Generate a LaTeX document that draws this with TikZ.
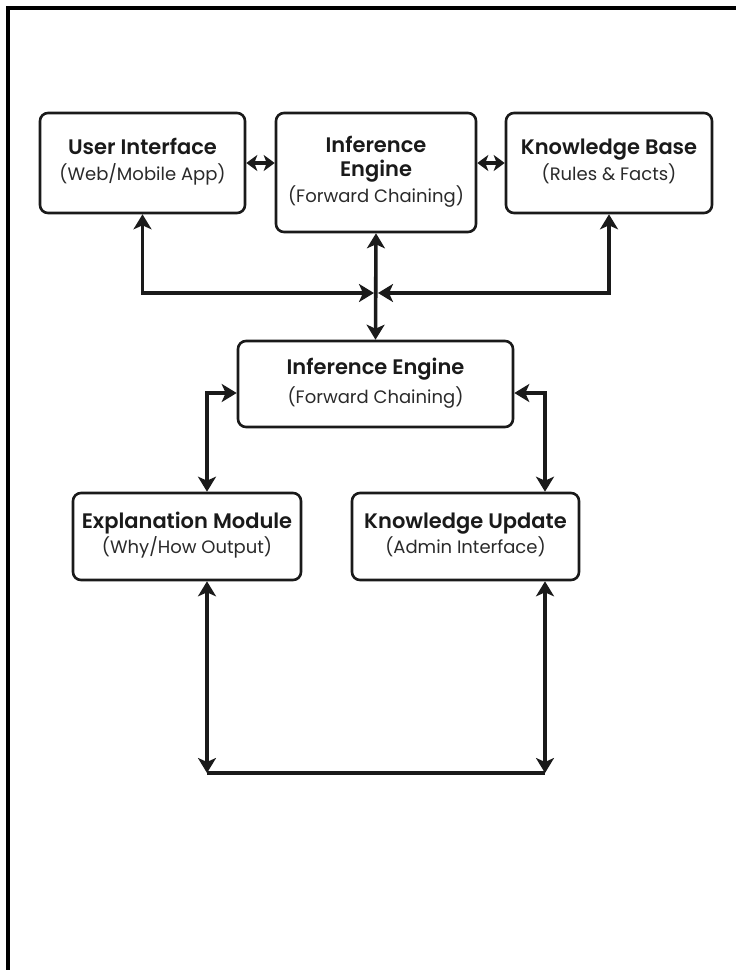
\documentclass[tikz,border=0pt]{standalone}
\usepackage{fontspec}
\setmainfont{Poppins}[BoldFont={Poppins SemiBold}]
\usetikzlibrary{arrows.meta}
\definecolor{ink}{HTML}{1A1A1A}
\definecolor{subink}{HTML}{2A2A2A}
\tikzset{
  box/.style={draw=ink, line width=2.6pt, rounded corners=8pt, fill=white, align=center, inner sep=0pt, text=ink},
  conn/.style={draw=ink, line width=3.6pt, {Stealth[length=15pt,width=18pt,inset=4pt]}-{Stealth[length=15pt,width=18pt,inset=4pt]}},
  shortconn/.style={draw=ink, line width=3.2pt, {Stealth[length=11pt,width=16pt,inset=3pt]}-{Stealth[length=11pt,width=16pt,inset=3pt]}},
  plainline/.style={draw=ink, line width=3.6pt},
  frame/.style={draw=black, line width=4pt}
}
\newcommand{\ttl}[1]{{\fontsize{21}{24}\selectfont\bfseries\rule[-7pt]{0pt}{20pt}#1}}
\newcommand{\sub}[1]{{\fontsize{18}{24}\selectfont\color{subink}\rule[-7pt]{0pt}{20pt}#1}}
\begin{document}
\begin{tikzpicture}[x=1pt,y=-1pt]
\useasboundingbox (0,0) rectangle (736,970);
\fill[white] (0,0) rectangle (736,970);
\draw[frame] (7.5,970) -- (7.5,8) -- (736,8);

\node[box, minimum width=205pt, minimum height=100pt] (ui) at (142.5,163) {\ttl{User Interface}\\[1pt]\sub{(Web/Mobile App)}};
\node[box, minimum width=200pt, minimum height=119pt] (ie) at (376,172.5) {\ttl{Inference}\\[0pt]\ttl{Engine}\\[1pt]\sub{(Forward Chaining)}};
\node[box, minimum width=206pt, minimum height=100pt] (kb) at (609,163) {\ttl{Knowledge Base}\\[1pt]\sub{(Rules \& Facts)}};
\node[box, minimum width=275pt, minimum height=86pt] (iem) at (375.5,384) {\ttl{Inference Engine}\\[4pt]\sub{(Forward Chaining)}};
\node[box, minimum width=228pt, minimum height=87pt] (em) at (187,536.5) {\ttl{Explanation Module}\\[0pt]\sub{(Why/How Output)}};
\node[box, minimum width=227pt, minimum height=87pt] (ku) at (465.5,536.5) {\ttl{Knowledge Update}\\[0pt]\sub{(Admin Interface)}};

\coordinate (j) at (376,293);
\coordinate (bl) at (207,773);
\coordinate (br) at (545,773);

\draw[shortconn] (ui.east) -- (ui.east -| ie.west);
\draw[shortconn] (kb.west -| ie.east) -- (kb.west);
\draw[conn, shorten <=2pt] (j) -| (ui.south);
\draw[conn, shorten <=2pt] (j) -| (kb.south);
\draw[conn] (ie.south) -- (iem.north);
\draw[conn] ([yshift=-9pt]iem.west) -| (em.north -| bl);
\draw[conn] ([yshift=-9pt]iem.east) -| (ku.north -| br);
\draw[conn] (em.south -| bl) -- (bl);
\draw[conn] (ku.south -| br) -- (br);
\draw[plainline] (bl) -- (br);
\end{tikzpicture}
\end{document}
